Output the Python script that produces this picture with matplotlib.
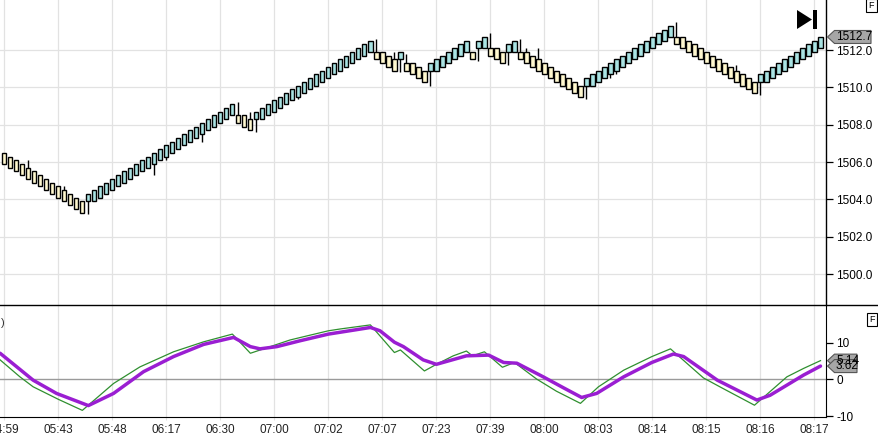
import matplotlib
matplotlib.use('Agg')
import matplotlib.pyplot as plt
from matplotlib.patches import Polygon, Rectangle
from matplotlib.transforms import IdentityTransform
from matplotlib.lines import Line2D

plt.rcParams['font.family'] = ['Liberation Sans', 'DejaVu Sans']
plt.rcParams['axes.unicode_minus'] = False

# renko-style bricks (open / close), one per bar
closes = [1505.9, 1505.7, 1505.5, 1505.3, 1505.1, 1504.9, 1504.7, 1504.5, 1504.3, 1504.1,
          1503.9, 1503.7, 1503.5, 1503.3,
          1504.3, 1504.5, 1504.7, 1504.9, 1505.1, 1505.3, 1505.5, 1505.7, 1505.9, 1506.1,
          1506.3, 1506.5, 1506.7, 1506.9, 1507.1, 1507.3, 1507.5, 1507.7, 1507.9, 1508.1,
          1508.3, 1508.5, 1508.7, 1508.9, 1509.1,
          1508.1, 1507.9, 1507.7,
          1508.7, 1508.9, 1509.1, 1509.3, 1509.5, 1509.7, 1509.9, 1510.1, 1510.3, 1510.5,
          1510.7, 1510.9, 1511.1, 1511.3, 1511.5, 1511.7, 1511.9, 1512.1, 1512.3, 1512.5,
          1511.5, 1511.3, 1511.1, 1510.9,
          1511.9,
          1510.9, 1510.7, 1510.5, 1510.3,
          1511.3, 1511.5, 1511.7, 1511.9, 1512.1, 1512.3, 1512.5,
          1511.5,
          1512.5, 1512.7,
          1511.7, 1511.5, 1511.3,
          1512.3, 1512.5,
          1511.5, 1511.3, 1511.1, 1510.9, 1510.7, 1510.5, 1510.3, 1510.1, 1509.9, 1509.7, 1509.5,
          1510.5, 1510.7, 1510.9, 1511.1, 1511.3, 1511.5, 1511.7, 1511.9, 1512.1, 1512.3,
          1512.5, 1512.7, 1512.9, 1513.1, 1513.3,
          1512.3, 1512.1, 1511.9, 1511.7, 1511.5, 1511.3, 1511.1, 1510.9, 1510.7, 1510.5,
          1510.3, 1510.1, 1509.9, 1509.7,
          1510.7, 1510.9, 1511.1, 1511.3, 1511.5, 1511.7, 1511.9, 1512.1, 1512.3, 1512.5, 1512.7]

opens = [1506.5, 1506.3, 1506.1, 1505.9, 1505.7, 1505.5, 1505.3, 1505.1, 1504.9, 1504.7,
         1504.5, 1504.3, 1504.1, 1503.9,
         1503.9, 1503.9, 1504.1, 1504.3, 1504.5, 1504.7, 1504.9, 1505.1, 1505.3, 1505.5,
         1505.7, 1505.9, 1506.1, 1506.3, 1506.5, 1506.7, 1506.9, 1507.1, 1507.3, 1507.5,
         1507.7, 1507.9, 1508.1, 1508.3, 1508.5,
         1508.5, 1508.5, 1508.3,
         1508.3, 1508.3, 1508.5, 1508.7, 1508.9, 1509.1, 1509.3, 1509.5, 1509.7, 1509.9,
         1510.1, 1510.3, 1510.5, 1510.7, 1510.9, 1511.1, 1511.3, 1511.5, 1511.7, 1511.9,
         1511.9, 1511.9, 1511.7, 1511.5,
         1511.5,
         1511.3, 1511.3, 1511.1, 1510.9,
         1510.9, 1510.9, 1511.1, 1511.3, 1511.5, 1511.7, 1511.9,
         1511.9,
         1512.1, 1512.1,
         1512.1, 1512.1, 1511.9,
         1511.9, 1511.9,
         1511.9, 1511.9, 1511.7, 1511.5, 1511.3, 1511.1, 1510.9, 1510.7, 1510.5, 1510.3, 1510.1,
         1510.1, 1510.1, 1510.3, 1510.5, 1510.7, 1510.9, 1511.1, 1511.3, 1511.5, 1511.7,
         1511.9, 1512.1, 1512.3, 1512.5, 1512.7,
         1512.7, 1512.7, 1512.5, 1512.3, 1512.1, 1511.9, 1511.7, 1511.5, 1511.3, 1511.1,
         1510.9, 1510.7, 1510.5, 1510.3,
         1510.3, 1510.3, 1510.5, 1510.7, 1510.9, 1511.1, 1511.3, 1511.5, 1511.7, 1511.9, 1512.1]

# wicks that reach past the body
wick_bars = [4, 10, 14, 25, 27, 33, 39, 41, 42, 49, 62, 65, 66, 67, 71, 79, 81, 84, 86, 87,
             89, 97, 101, 102, 112, 122, 126]
wick_ends = [1506.1, 1504.7, 1503.2, 1505.3, 1506.1, 1507.1, 1509.2, 1508.7, 1507.6, 1509.4,
             1512.6, 1511.9, 1510.8, 1511.8, 1510.1, 1511.4, 1512.9, 1511.2, 1512.6, 1512.1,
             1512.1, 1509.4, 1510.5, 1510.7, 1513.5, 1511.2, 1509.6]

time_ticks = [0, 9, 18, 27, 36, 45, 54, 63, 72, 81, 90, 99, 108, 117, 126, 135]
time_labels = ['04:59', '05:43', '05:48', '06:17', '06:30', '07:00', '07:02', '07:07',
               '07:23', '07:39', '08:00', '08:03', '08:14', '08:15', '08:16', '08:17']
price_ticks = [1500.0, 1502.0, 1504.0, 1506.0, 1508.0, 1510.0, 1512.0]
osc_ticks = [-10, 0, 10]

# lower panel oscillator (bar position, value)
green_x = [-0.7, 2.6, 4.8, 9.0, 13, 18.2, 22.6, 28.2, 33.2, 38, 41, 45.4, 47.6, 50.4, 54, 56,
           61, 65, 66, 70, 72, 74.8, 77, 78, 80, 83, 85, 88.7, 92, 96, 99, 103.2, 107.9,
           111, 116.5, 119.8, 125, 130.4, 133.2, 136]
green_v = [5.3, 0.7, -2.0, -5.4, -8.4, -1.1, 3.4, 7.5, 10.2, 12.3, 7.1, 9.5, 10.7, 11.8, 13.2,
           13.7, 14.8, 7.3, 8.0, 2.3, 4.1, 6.4, 7.7, 6.4, 7.5, 3.3, 4.6, 0.1, -3.2, -6.5, -2.0,
           2.5, 6.2, 8.3, 0.4, -2.5, -7.0, 0.7, 3.0, 5.1]
purple_x = [-0.7, 4.8, 8.7, 14, 18.2, 23.2, 28.2, 33.2, 38.2, 41, 42.6, 45.4, 47.6, 49.3, 54,
            61, 62.6, 65, 66.5, 69.8, 72, 77, 80.7, 83.2, 85.4, 89.8, 93.2, 96.2, 98.7, 103.2,
            107.9, 111.5, 113.2, 118.8, 125.4, 127.6, 133.2, 136]
purple_v = [7.1, -0.2, -3.8, -7.1, -3.8, 2.1, 6.2, 9.5, 11.4, 8.9, 8.3, 8.9, 9.8, 10.5, 12.3,
            14.1, 13.2, 10.1, 8.9, 5.3, 4.1, 6.4, 6.6, 4.6, 4.4, 0.7, -2.3, -4.9, -3.8, 0.7,
            4.6, 6.9, 6.2, -0.2, -5.6, -4.3, 1.2, 3.62]

UP_FILL = '#A9E3E3'
DOWN_FILL = '#FFF8CF'
GRID = '#E2E2E2'
W, H = 879, 436

fig = plt.figure(figsize=(W / 100, H / 100), dpi=100)
ax1 = fig.add_axes([0, 1 - 305 / H, 826.5 / W, 305 / H])
ax2 = fig.add_axes([0, 1 - 417 / H, 826.5 / W, 112 / H])

xlim = (-0.72, 137.0)

# ---- price panel
idx = list(range(len(closes)))
bottoms = [min(o, c) for o, c in zip(opens, closes)]
heights = [abs(c - o) for o, c in zip(opens, closes)]
fills = [UP_FILL if c > o else DOWN_FILL for o, c in zip(opens, closes)]
mids = [(opens[i] + closes[i]) / 2 for i in wick_bars]
ax1.vlines(wick_bars, mids, wick_ends, color='black', lw=1.0, zorder=2)
ax1.bar(idx, heights, bottom=bottoms, width=0.7, color=fills, edgecolor='black',
        linewidth=1.0, zorder=3)

ax1.set_xlim(*xlim)
ax1.set_ylim(1498.35, 1514.68)
ax1.set_xticks(time_ticks)
ax1.set_xticklabels([])
ax1.tick_params(axis='x', length=0)
ax1.set_yticks(price_ticks)
ax1.set_yticklabels([f'{p:.1f}' for p in price_ticks])
ax1.yaxis.tick_right()
ax1.tick_params(axis='y', direction='out', length=5, width=0.9, pad=2, labelsize=8.5,
                colors='black')
ax1.grid(True, color=GRID, lw=0.9, zorder=0)
ax1.set_axisbelow(True)
for s in ['left', 'top', 'bottom']:
    ax1.spines[s].set_visible(False)
ax1.spines['right'].set_linewidth(1)

# ---- oscillator panel
ax2.axhline(0, color='#9A9A9A', lw=1, zorder=1)
ax2.plot(green_x, green_v, color='#2F8F2F', lw=0.9, zorder=3)
ax2.plot(purple_x, purple_v, color='#9A1ED2', lw=2.5, zorder=4, solid_capstyle='round')
ax2.set_xlim(*xlim)
ax2.set_ylim(-10.2, 20.2)
ax2.set_xticks(time_ticks)
ax2.set_xticklabels(time_labels)
ax2.tick_params(axis='x', length=2, color=GRID, pad=3, labelsize=8.5, colors='#222222')
ax2.set_yticks(osc_ticks)
ax2.yaxis.tick_right()
ax2.tick_params(axis='y', direction='out', length=5, width=0.9, pad=2, labelsize=8.5,
                colors='black')
ax2.grid(True, axis='x', color=GRID, lw=0.9, zorder=0)
ax2.set_axisbelow(True)
for s in ['left', 'top']:
    ax2.spines[s].set_visible(False)

# separator between panels across the whole width
fig.add_artist(Line2D([0, 1], [1 - 305 / H, 1 - 305 / H], color='black', lw=1))


def value_tag(ax, value, text, right):
    # arrow-shaped value box on the right axis, pixel coordinates
    _, y = ax.transData.transform((0, value))
    x0 = 827.5
    pts = [(x0, y), (x0 + 7, y + 6.5), (right, y + 6.5), (right, y - 6.5), (x0 + 7, y - 6.5)]
    fig.add_artist(Polygon(pts, closed=True, transform=IdentityTransform(),
                           facecolor='#A6A6A6', edgecolor='#555555', lw=0.8))
    fig.text(x0 + 8.5, y, text, transform=IdentityTransform(), fontsize=8.5,
             va='center', ha='left', color='black')


value_tag(ax1, closes[-1], f'{closes[-1]:.1f}', 871)
value_tag(ax2, green_v[-1], '5.14', 857)
value_tag(ax2, purple_v[-1], f'{purple_v[-1]:.2f}', 857)

# play-to-end marker
def px(x, y):
    return (x / W, 1 - y / H)

fig.add_artist(Polygon([px(797, 10), px(797, 29), px(812, 19.5)], closed=True,
                       transform=fig.transFigure, facecolor='black', edgecolor='none'))
fig.add_artist(Rectangle(px(813, 29), 4 / W, 19 / H, transform=fig.transFigure,
                         facecolor='black', edgecolor='none'))

# panel flags
for (fx, fy) in [(871.5, 5.5), (872, 319.5)]:
    fig.text(fx / W, 1 - fy / H, 'F', fontsize=6.5, ha='center', va='center',
             bbox=dict(boxstyle='square,pad=0.25', facecolor='white', edgecolor='black', lw=0.8))

fig.text(0.5 / W, 1 - 323 / H, ')', fontsize=8, ha='left', va='center', color='#333333')

fig.savefig('out.png', dpi=100)
